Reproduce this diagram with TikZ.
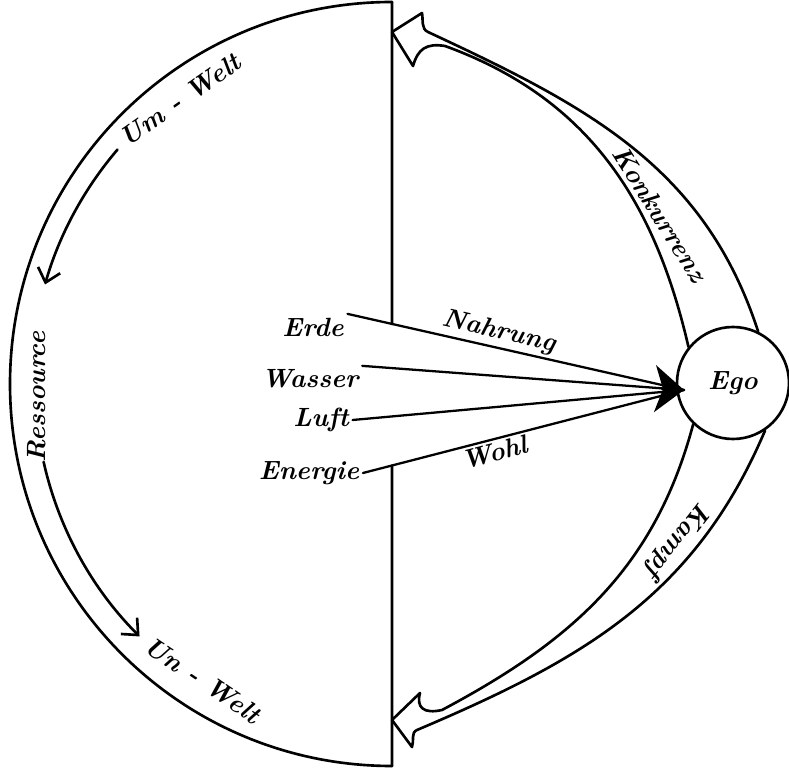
\documentclass[tikz,border=0pt]{standalone}
\usepackage{tikz}
\usetikzlibrary{positioning,arrows.meta,calc}

\begin{document}
\begin{tikzpicture}[x=0.2mm, y=0.2mm,
  hand/.style={line width=1.5pt, line cap=round, line join=round},
  ray/.style={line width=1.3pt, line cap=round},
  lbl/.style={font=\fontsize{15}{17}\selectfont\bfseries\itshape, inner sep=2pt},
  flow/.style={hand, -{Straight Barb[length=2.6mm, width=4.6mm]}},
  node distance=4mm]
\useasboundingbox (0,0) rectangle (789,770);
\coordinate (mid) at (392,386);
\coordinate (top) at (392,768);
\coordinate (bot) at (392,4);
\coordinate (tip) at (684,380);
\coordinate (hub) at (662,381);
\draw[hand] (top) arc[start angle=90, end angle=270, radius=382];
\node[lbl, draw, circle, line width=1.5pt, minimum size=22.4mm, inner sep=0pt] (ego) at (733,387) {Ego};
\node[lbl] (erde) at (313,443) {Erde};
\node[lbl] (wasser) at (310,391) {Wasser};
\node[lbl] (luft) at (321,350) {Luft};
\node[lbl] (energie) at (309,297) {Energie};
\foreach \src/\anc in {erde/north east,wasser/north east,luft/east,energie/east}
  \draw[ray] (\src.\anc) -- (tip);
\draw[ray, -{Stealth[length=5.8mm, width=9.4mm, inset=1.6mm]}] (hub) -- (tip);
\path (erde.north east) -- node[lbl, sloped, above, pos=.44] (nahrung) {Nahrung} (tip);
\path (energie.east) -- node[lbl, sloped, below, pos=.4] (wohl) {Wohl} (tip);
\draw[hand] (top) -- (intersection of top--bot and erde.north east--tip);
\draw[hand] (intersection of top--bot and energie.east--tip) -- (bot);
\draw[flow] ([shift={(139.5:361)}]mid) arc[start angle=139.5, end angle=164, radius=361];
\draw[flow] ([shift={(192.6:357)}]mid) arc[start angle=192.6, end angle=225, radius=357];
\node[lbl, rotate=35] (umwelt) at (180,670) {Um - Welt};
\node[lbl, rotate=90] (ressource) at (37,373) {Ressource};
\node[lbl, rotate=-34] (unwelt) at (203,90) {Un - Welt};
\draw[hand] (ego.64) to[out=108,in=-25] (428,738) to[out=155,in=-80] (422,757)
  -- (392,738) -- (413,704) .. controls (418,721) and (426,727) .. (445,724)
  to[out=-20,in=103] (ego.141);
\draw[hand] (ego.-56) to[out=-113,in=23] (417,40) to[out=203,in=70] (412,23)
  -- (392,50) -- (420,77) .. controls (416,62) and (424,56) .. (442,60)
  to[out=28,in=-105] (ego.-134);
\node[lbl, rotate=-58] (konkurrenz) at (660,556) {Konkurrenz};
\node[lbl, rotate=232] (kampf) at (677,230) {Kampf};
\end{tikzpicture}
\end{document}
